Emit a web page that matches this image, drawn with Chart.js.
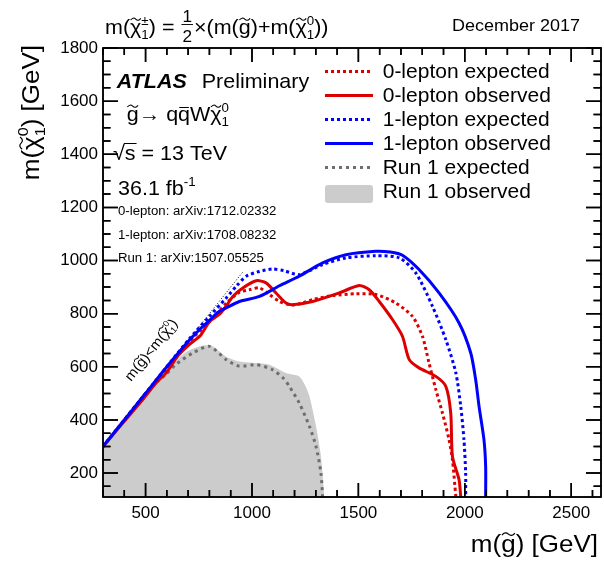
<!DOCTYPE html>
<html>
<head>
<meta charset="utf-8">
<script src="https://cdn.jsdelivr.net/npm/chart.js@4/dist/chart.umd.min.js"></script>
<style>
  html, body { margin: 0; padding: 0; background: #fff; }
  canvas { background: #fff; }
</style>
</head>
<body>
<canvas id="limits" width="604" height="561"></canvas>
<script>
// tick labels
var xTicks = [500, 1000, 1500, 2000, 2500];
var yTicks = [200, 400, 600, 800, 1000, 1200, 1400, 1600, 1800];

// kinematic boundary m(gluino) = m(neutralino)
var diagX = [300, 960];
var diagY = [300, 960];

// 0-lepton expected / observed
var zeroExpX = [300, 400, 500, 600, 700, 800, 880, 940, 988, 1035, 1082, 1129, 1176, 1210, 1285, 1379, 1488, 1582, 1676, 1754, 1801, 1832, 1864, 1895, 1926, 1942, 1958];
var zeroExpY = [300, 400, 500, 590, 690, 770, 840, 880, 890, 897, 872, 846, 834, 834, 853, 868, 875, 872, 840, 790, 715, 614, 514, 426, 326, 250, 110];
var zeroObsX = [300, 400, 480, 550, 600, 650, 700, 760, 800, 850, 880, 910, 957, 1020, 1066, 1113, 1160, 1191, 1285, 1410, 1504, 1551, 1598, 1660, 1707, 1739, 1785, 1864, 1911, 1934, 1942, 1973, 1981];
var zeroObsY = [300, 395, 470, 540, 580, 640, 680, 720, 770, 800, 830, 865, 897, 924, 916, 878, 840, 834, 846, 878, 906, 890, 846, 778, 715, 627, 596, 564, 526, 426, 263, 175, 110];

// 1-lepton expected / observed
var oneExpX = [300, 500, 700, 800, 880, 926, 973, 1035, 1097, 1150, 1222, 1332, 1442, 1582, 1692, 1770, 1848, 1911, 1958, 1981, 1996, 2004, 2004];
var oneExpY = [300, 500, 700, 790, 860, 903, 941, 959, 968, 962, 947, 985, 1010, 1018, 1010, 953, 828, 702, 577, 451, 326, 200, 110];
var oneObsX = [300, 400, 500, 600, 700, 760, 800, 840, 879, 941, 1035, 1129, 1222, 1332, 1442, 1582, 1650, 1707, 1785, 1879, 1973, 2028, 2051, 2067, 2090, 2098, 2098];
var oneObsY = [300, 400, 500, 600, 695, 745, 775, 805, 822, 846, 865, 905, 941, 991, 1022, 1035, 1032, 1020, 966, 878, 765, 652, 552, 451, 326, 225, 110];

// Run 1 expected / observed
var run1ExpX = [300, 400, 500, 550, 600, 644, 722, 800, 879, 941, 1020, 1097, 1150, 1176, 1222, 1270, 1301, 1324, 1332];
var run1ExpY = [300, 400, 500, 540, 575, 610, 652, 677, 627, 602, 608, 589, 555, 526, 464, 376, 300, 200, 110];
var run1ObsX = [300, 400, 500, 600, 700, 800, 879, 941, 1020, 1082, 1160, 1222, 1250, 1270, 1301, 1324, 1340];
var run1ObsY = [300, 400, 500, 590, 660, 682, 638, 620, 614, 608, 577, 564, 530, 489, 376, 263, 110];

var legendNames = ['0-lepton expected', '0-lepton observed', '1-lepton expected', '1-lepton observed', 'Run 1 expected', 'Run 1 observed'];

var RED = '#dd0000', BLUE = '#0000ff', GREY = '#6e6e6e', FILLC = '#cccccc';
var FONT = '"Liberation Sans", Arial, Helvetica, sans-serif';
var SY = 0.93;

function pts(px, py) {
  return px.map(function (x, i) { return { x: x, y: py[i] }; });
}

function curve(label, px, py, color, dash) {
  return {
    label: label, data: pts(px, py), showLine: true, fill: false,
    borderColor: color, borderWidth: 3, borderDash: dash || [],
    pointRadius: 0, tension: 0.25
  };
}

// small ROOT-like latex: parts = [text, kind, stacked]
// kinds: n, sup, sub, frac, tilde (wave over char), bar (line over char)
function rich(ctx, parts, x, y, size, opt) {
  opt = opt || {};
  var style = opt.style || '';
  var items = [], cx = 0, lastStart = 0, lastEnd = 0;
  parts.forEach(function (p) {
    var t = p[0], kind = p[1] || 'n';
    if (kind === 'frac') {
      var fs = size * 0.8;
      ctx.font = style + fs + 'px ' + FONT;
      var fw = Math.max(ctx.measureText(t[0]).width, ctx.measureText(t[1]).width) + 2;
      items.push({ frac: t, fs: fs, sx: cx + 1, w: fw });
      cx += fw + 2; lastStart = cx; lastEnd = cx;
      return;
    }
    var fs2 = size, dy = 0;
    if (kind === 'sup') { fs2 = size * 0.62; dy = -size * 0.45; }
    if (kind === 'sub') { fs2 = size * 0.62; dy = size * 0.24; }
    ctx.font = style + fs2 + 'px ' + FONT;
    var w2 = ctx.measureText(t).width;
    var sx = p[2] ? lastStart : cx;
    items.push({ t: t, fs: fs2, dy: dy, sx: sx, w: w2, kind: kind });
    var end = sx + w2;
    if (p[2]) { cx = Math.max(lastEnd, end); } else { cx = end; }
    lastStart = sx; lastEnd = cx;
  });
  var off = opt.align === 'right' ? -cx : 0;
  ctx.save();
  ctx.translate(x, y);
  if (opt.rot) ctx.rotate(opt.rot);
  ctx.scale(1, SY);
  ctx.fillStyle = '#000';
  ctx.strokeStyle = '#000';
  ctx.setLineDash([]);
  ctx.textBaseline = 'alphabetic';
  ctx.textAlign = 'left';
  items.forEach(function (it) {
    ctx.font = style + it.fs + 'px ' + FONT;
    if (it.frac) {
      var a = ctx.measureText(it.frac[0]).width, b = ctx.measureText(it.frac[1]).width;
      ctx.fillText(it.frac[0], off + it.sx + (it.w - a) / 2, -size * 0.62);
      ctx.fillText(it.frac[1], off + it.sx + (it.w - b) / 2, size * 0.42);
      ctx.fillRect(off + it.sx, -size * 0.5, it.w, 1);
      return;
    }
    ctx.fillText(it.t, off + it.sx, it.dy);
    var x0 = off + it.sx, w = it.w;
    if (it.kind === 'tilde') {
      var y0 = -size * 0.74, amp = size * 0.07;
      ctx.lineWidth = Math.max(1, size * 0.05);
      ctx.beginPath();
      ctx.moveTo(x0 + w * 0.05, y0 + amp * 0.6);
      ctx.quadraticCurveTo(x0 + w * 0.28, y0 - amp * 1.8, x0 + w * 0.5, y0);
      ctx.quadraticCurveTo(x0 + w * 0.72, y0 + amp * 1.8, x0 + w * 0.95, y0 - amp * 0.6);
      ctx.stroke();
    }
    if (it.kind === 'bar') {
      ctx.fillRect(x0 + w * 0.1, -size * 0.7, w * 0.8, Math.max(1, size * 0.05));
    }
  });
  ctx.restore();
  return cx;
}

// map a value onto the chart area using the scale's own range
function xPix(chart, v) {
  var s = chart.scales.x, a = chart.chartArea;
  var p = s.getPixelForValue(v);
  if (!isFinite(p)) p = a.left + (v - s.min) / (s.max - s.min) * (a.right - a.left);
  return p;
}
function yPix(chart, v) {
  var s = chart.scales.y, a = chart.chartArea;
  var p = s.getPixelForValue(v);
  if (!isFinite(p)) p = a.bottom - (v - s.min) / (s.max - s.min) * (a.bottom - a.top);
  return p;
}

// inward ticks on all four sides, ROOT style
function drawTicks(chart) {
  var c = chart.ctx, a = chart.chartArea;
  var L = a.left, R = a.right, T = a.top, B = a.bottom;
  c.save();
  c.globalAlpha = 1;
  c.globalCompositeOperation = 'source-over';
  c.setLineDash([]);
  c.strokeStyle = '#000';
  c.lineWidth = 1.5;
  c.beginPath();
  var tv, tp, tl;
  for (tv = 300; tv <= 2600; tv += 100) {
    tp = xPix(chart, tv);
    tl = tv % 500 === 0 ? 14 : 7;
    c.moveTo(tp, B); c.lineTo(tp, B - tl);
    c.moveTo(tp, T); c.lineTo(tp, T + tl);
  }
  for (tv = 150; tv <= 1800; tv += 50) {
    tp = yPix(chart, tv);
    tl = tv % 200 === 0 ? 15 : 7.5;
    c.moveTo(L, tp); c.lineTo(L + tl, tp);
    c.moveTo(R, tp); c.lineTo(R - tl, tp);
  }
  c.stroke();
  c.strokeRect(L, T, R - L, B - T);
  c.restore();
}

var frameTicks = {
  id: 'frameTicks',
  afterDatasetsDraw: function (chart) { drawTicks(chart); },
  afterDraw: function (chart) { drawTicks(chart); }
};

var atlasText = {
  id: 'atlasText',
  afterDraw: function (chart) {
    var c = chart.ctx;
    var chi = ['\u03c7', 'tilde'], gl = ['g', 'tilde'];
    // top line
    rich(c, [['m(', 'n'], chi, ['\u00b1', 'sup'], ['1', 'sub', true], [') = ', 'n'], [['1', '2'], 'frac'],
      ['\u00d7(m(', 'n'], gl, [')+m(', 'n'], chi, ['0', 'sup'], ['1', 'sub', true], ['))', 'n']], 105, 34, 21.5);
    rich(c, [['December 2017', 'n']], 452, 31, 18);

    // axis titles
    rich(c, [['m(', 'n'], gl, [') [GeV]', 'n']], 598, 552, 26, { align: 'right' });
    rich(c, [['m(', 'n'], chi, ['0', 'sup'], ['1', 'sub', true], [') [GeV]', 'n']], 39, 45, 26, { align: 'right', rot: -Math.PI / 2 });

    // labels inside the frame
    rich(c, [['ATLAS', 'n']], 116.7, 88, 21.5, { style: 'italic bold ' });
    rich(c, [['Preliminary', 'n']], 201.7, 88, 21.5);
    rich(c, [gl, ['\u2192 q', 'n'], ['q', 'bar'], ['W', 'n'], chi, ['0', 'sup'], ['1', 'sub', true]], 126.7, 121, 21.5);
    var rw = rich(c, [['\u221a', 'n']], 113, 160, 21.5);
    var rs = rich(c, [['s', 'n']], 113 + rw, 160, 21.5);
    c.save();
    c.fillStyle = '#000';
    c.fillRect(113 + rw - 1, 143, rs + 2, 1);
    c.restore();
    rich(c, [[' = 13 TeV', 'n']], 113 + rw + rs, 160, 21.5);
    rich(c, [['36.1 fb', 'n'], ['-1', 'sup']], 118, 195, 21.5);
    rich(c, [['0-lepton: arXiv:1712.02332', 'n']], 118, 215, 13.2);
    rich(c, [['1-lepton: arXiv:1708.08232', 'n']], 118, 238.5, 13.2);
    rich(c, [['Run 1: arXiv:1507.05525', 'n']], 118, 261.5, 13.2);

    // diagonal label
    rich(c, [['m(', 'n'], gl, [')<m(', 'n'], chi, ['0', 'sup'], ['1', 'sub', true], [')', 'n']],
      131, 382, 15, { rot: -Math.atan(1.246) });

    // legend
    var styles = [[RED, [3, 3]], [RED, []], [BLUE, [3, 3]], [BLUE, []], [GREY, [3, 4]], null];
    c.save();
    legendNames.forEach(function (name, i) {
      var base = 78 + i * 24;
      var st = styles[i];
      if (st) {
        c.strokeStyle = st[0];
        c.lineWidth = 3;
        c.setLineDash(st[1]);
        c.beginPath();
        c.moveTo(325, base - 6.5);
        c.lineTo(373, base - 6.5);
        c.stroke();
      } else {
        c.fillStyle = FILLC;
        c.beginPath();
        c.roundRect(325, base - 13, 48, 18, 3);
        c.fill();
      }
      rich(c, [[name, 'n']], 382.7, base, 21);
    });
    c.restore();
  }
};

var datasets = [
  curve('1-lepton observed', oneObsX, oneObsY, BLUE),
  curve('1-lepton expected', oneExpX, oneExpY, BLUE, [3, 3]),
  curve('0-lepton observed', zeroObsX, zeroObsY, RED),
  curve('0-lepton expected', zeroExpX, zeroExpY, RED, [3, 3]),
  curve('Run 1 expected', run1ExpX, run1ExpY, GREY, [3, 4]),
  {
    label: 'diagonal', data: pts(diagX, diagY), showLine: true, fill: false,
    borderColor: '#000', borderWidth: 1, borderDash: [1, 2], pointRadius: 0
  },
  {
    label: 'Run 1 observed', data: pts(run1ObsX, run1ObsY), showLine: true, fill: 'start',
    backgroundColor: FILLC, borderColor: FILLC, borderWidth: 0, pointRadius: 0, tension: 0.25
  }
];

new Chart(document.getElementById('limits'), {
  type: 'scatter',
  data: { datasets: datasets },
  options: {
    responsive: false,
    animation: false,
    devicePixelRatio: 1,
    layout: { padding: { top: 48, right: 3, left: 0, bottom: 0 } },
    plugins: { legend: { display: false }, tooltip: { enabled: false } },
    scales: {
      x: {
        type: 'linear', min: 300, max: 2640,
        afterBuildTicks: function (s) { s.ticks = xTicks.map(function (v) { return { value: v }; }); },
        afterFit: function (s) { s.height = 64; },
        grid: { display: false, drawTicks: false },
        border: { display: false },
        ticks: { color: '#000', font: { family: FONT, size: 17 }, padding: 6, maxRotation: 0, autoSkip: false,
          callback: function (v) { return String(v); } }
      },
      y: {
        type: 'linear', min: 110, max: 1800,
        afterBuildTicks: function (s) { s.ticks = yTicks.map(function (v) { return { value: v }; }); },
        afterFit: function (s) { s.width = 103; },
        grid: { display: false, drawTicks: false },
        border: { display: false },
        ticks: { color: '#000', font: { family: FONT, size: 17 }, padding: 5, autoSkip: false,
          callback: function (v) { return String(v); } }
      }
    }
  },
  plugins: [frameTicks, atlasText]
});
</script>
</body>
</html>
